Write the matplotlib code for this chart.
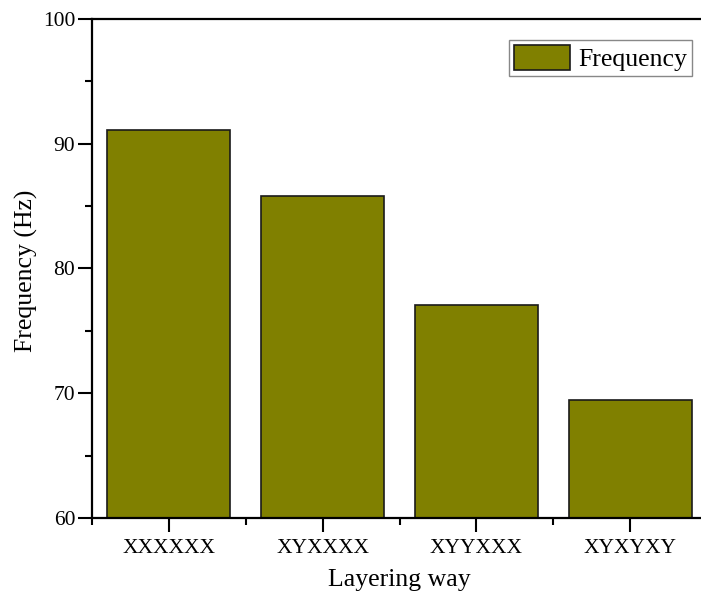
import numpy as np
import matplotlib.pyplot as plt
from matplotlib.ticker import MultipleLocator, FixedLocator

# datos de la gráfica
capas = ['XXXXXX', 'XYXXXX', 'XYYXXX', 'XYXYXY']
frecuencia = [91.08, 85.84, 77.10, 69.43]

plt.rcParams['font.family'] = ['Liberation Serif', 'DejaVu Serif']
plt.rcParams['font.size'] = 15

fig = plt.figure(figsize=(7.01, 5.97), dpi=100)
ax = fig.add_axes([92 / 701, 79 / 597, 615 / 701, 499 / 597])

x = np.arange(len(capas))
ax.bar(x, frecuencia, width=0.8, color='#808000', edgecolor='#1a1a1a',
       linewidth=1.2, label='Frequency', zorder=2)

ax.set_xlim(-0.5, len(capas) - 0.5)
ax.set_ylim(60, 100)
ax.set_xticks(x)
ax.set_xticklabels(capas)
ax.xaxis.set_minor_locator(FixedLocator(np.arange(-0.5, len(capas), 1.0)))
ax.yaxis.set_major_locator(MultipleLocator(10))
ax.yaxis.set_minor_locator(MultipleLocator(5))

ax.tick_params(which='major', direction='out', length=10, width=1.5, labelsize=15.5)
ax.tick_params(which='minor', direction='out', length=5, width=1.5)
ax.tick_params(axis='x', pad=5)
ax.tick_params(axis='y', pad=2)

for lado in ['left', 'bottom', 'top']:
    ax.spines[lado].set_linewidth(1.6)
ax.spines['right'].set_visible(False)

ax.set_xlabel('Layering way', fontsize=18.5, labelpad=8)
ax.set_ylabel('Frequency (Hz)', fontsize=18.5)
ax.yaxis.set_label_coords(-0.087, 0.495)

ax.legend(loc='upper right', bbox_to_anchor=(692 / 701, 1 - 40 / 597),
          bbox_transform=fig.transFigure, fancybox=False, edgecolor='#888888',
          framealpha=1, fontsize=18.5, handlelength=2.2, handleheight=1.1,
          borderpad=0.2, handletextpad=0.3, borderaxespad=0)

fig.savefig('out.png', dpi=100)
